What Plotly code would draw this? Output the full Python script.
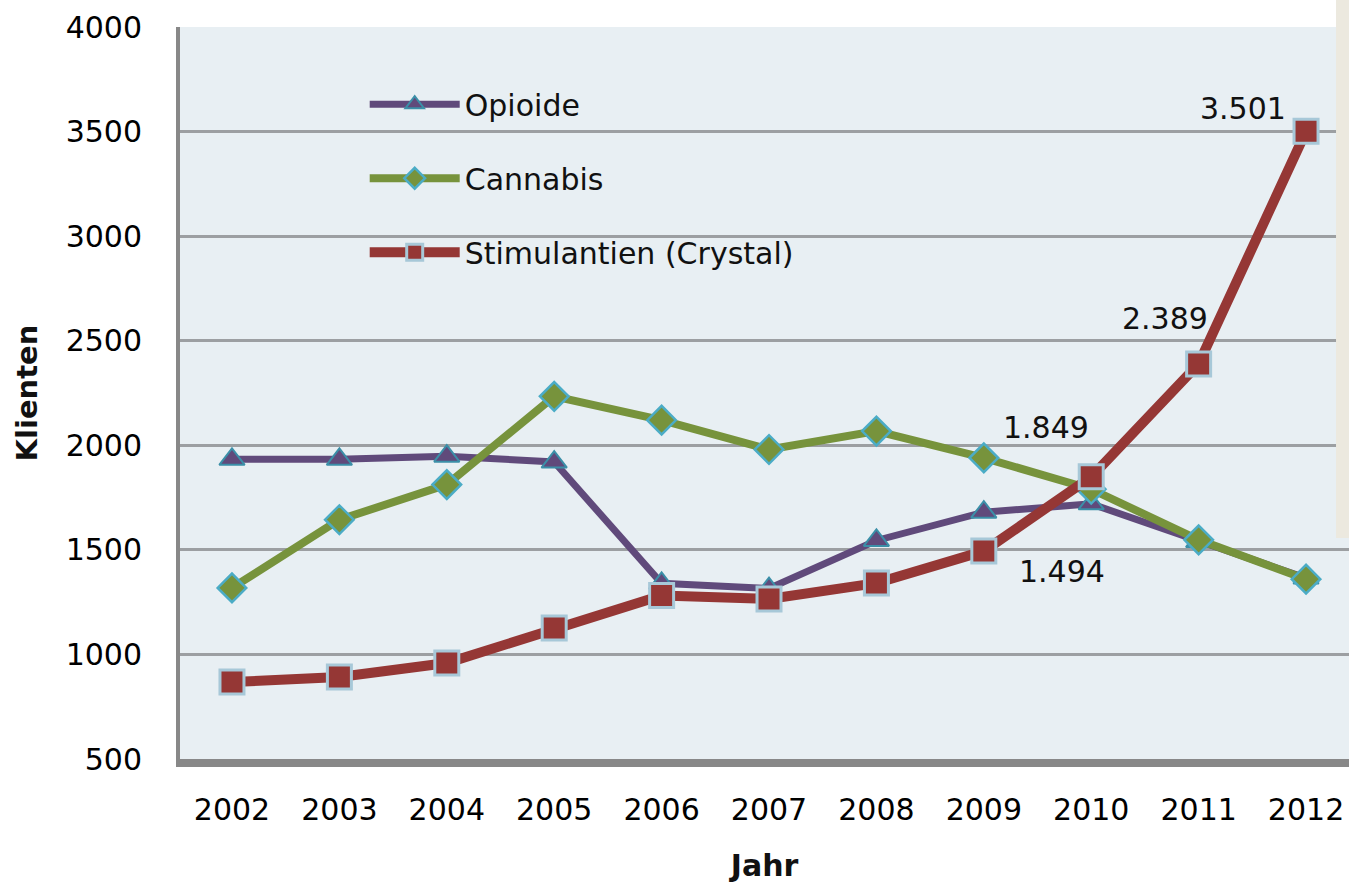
import plotly.graph_objects as go

# Klienten nach Hauptsubstanz, 2002-2012
years = ["2002", "2003", "2004", "2005", "2006", "2007", "2008", "2009", "2010", "2011", "2012"]
opioide = [1933, 1933, 1948, 1920, 1340, 1315, 1545, 1680, 1720, 1540, 1365]
cannabis = [1318, 1644, 1812, 2234, 2120, 1980, 2068, 1940, 1790, 1548, 1360]
stimulantien = [868, 892, 959, 1126, 1282, 1265, 1341, 1494, 1849, 2389, 3501]

# Werte, die im Diagramm beschriftet werden: (Jahr, xshift, yshift)
labelled = [("2009", 78, -20), ("2010", -45, 49), ("2011", -34, 45), ("2012", -63, 23)]

y_ticks = [500, 1000, 1500, 2000, 2500, 3000, 3500, 4000]

FONT = "DejaVu Sans"
TEXT = "#111111"

fig = go.Figure()

fig.add_trace(go.Scatter(
    x=years, y=opioide, name="Opioide", mode="lines+markers",
    legendgroup="a",
    line=dict(color="#604a7b", width=7),
    marker=dict(symbol="triangle-up", size=22, color="#604a7b",
                line=dict(color="#3b8fa8", width=2)),
))
fig.add_trace(go.Scatter(
    x=years, y=cannabis, name="Cannabis", mode="lines+markers",
    legendgroup="b",
    line=dict(color="#77933c", width=8),
    marker=dict(symbol="diamond", size=22, color="#77933c",
                line=dict(color="#4bacc6", width=2.5)),
))
fig.add_trace(go.Scatter(
    x=years, y=stimulantien, name="Stimulantien (Crystal)", mode="lines+markers",
    legendgroup="c",
    line=dict(color="#953735", width=10),
    marker=dict(symbol="square", size=24, color="#953735",
                line=dict(color="#a7c8d8", width=3)),
))


def de_format(v):
    return f"{v:,}".replace(",", ".")


for yr, dx, dy in labelled:
    i = years.index(yr)
    v = stimulantien[i]
    fig.add_annotation(
        x=i, y=v, xref="x", yref="y", text=de_format(v), showarrow=False,
        xshift=dx, yshift=dy,
        font=dict(family=FONT, size=30, color=TEXT),
    )

# Randfläche rechts oben
fig.add_shape(
    type="rect", xref="paper", yref="paper",
    x0=0.9889, x1=1.02, y0=0.302, y1=1.06,
    fillcolor="#ece9df", line=dict(width=0), layer="above",
)

fig.update_layout(
    width=1349, height=883,
    margin=dict(l=180, r=0, t=27, b=124, autoexpand=False),
    paper_bgcolor="white",
    plot_bgcolor="#e8eff3",
    font=dict(family=FONT, size=30, color=TEXT),
    showlegend=True,
    legend=dict(
        x=0.158, y=0.93, xanchor="left", yanchor="top",
        bgcolor="rgba(0,0,0,0)",
        font=dict(family=FONT, size=30, color=TEXT),
        itemwidth=90,
        tracegroupgap=32,
    ),
    xaxis=dict(
        type="category",
        range=[-0.484, 10.40],
        showgrid=False,
        showline=True, linecolor="#888888", linewidth=8,
        ticks="", ticklabelstandoff=17,
        automargin=False,
        tickfont=dict(family=FONT, size=30, color="#000000"),
        title=dict(text="Jahr", standoff=41,
                   font=dict(family=FONT, size=30, color=TEXT, weight="bold")),
        fixedrange=True,
    ),
    yaxis=dict(
        range=[500, 4000],
        tickvals=y_ticks,
        showgrid=True, gridcolor="#9c9fa2", gridwidth=3,
        zeroline=False,
        showline=True, linecolor="#888888", linewidth=4,
        ticks="", ticklabelstandoff=28,
        automargin=False,
        tickfont=dict(family=FONT, size=30, color="#000000"),
        title=dict(text="Klienten", standoff=20,
                   font=dict(family=FONT, size=29, color=TEXT, weight="bold")),
        fixedrange=True,
    ),
)

fig.write_html("out.html")
